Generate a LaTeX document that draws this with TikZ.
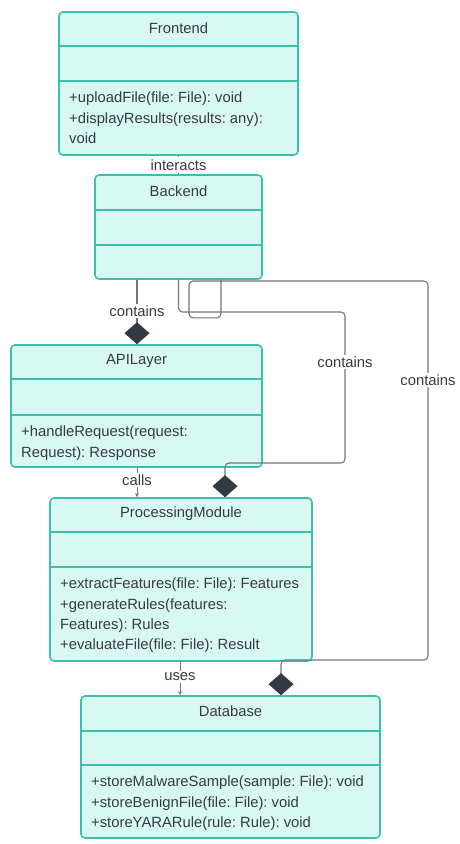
\documentclass[tikz,border=0pt]{standalone}
\usepackage{fontspec}
\setmainfont{Liberation Sans}
\usepackage{tikz}
\usetikzlibrary{arrows.meta}
\definecolor{classfill}{HTML}{D8F8F2}
\definecolor{classline}{HTML}{3CBFAE}
\definecolor{textgray}{HTML}{363B42}
\definecolor{linkgray}{HTML}{767676}
\definecolor{diamondgray}{HTML}{333A45}
\frenchspacing

\begin{document}
\begin{tikzpicture}[x=1pt,y=-1pt,
    classbox/.style={draw=classline,fill=classfill,line width=1.6pt,rounded corners=4pt,inner sep=0pt},
    divider/.style={draw=classline,line width=1.6pt},
    title/.style={text=textgray,font=\fontsize{14.8}{17}\selectfont},
    methods/.style={text=textgray,font=\fontsize{14.8}{20.3}\selectfont,align=left,inner sep=0pt,anchor=north west},
    link/.style={draw=linkgray,line width=1.1pt,rounded corners=4pt},
    lbl/.style={fill=white,text=textgray,inner sep=1.5pt,font=\fontsize{14.8}{17}\selectfont},
    comp/.style={link,-{Diamond[length=22pt,width=25pt,fill=diamondgray,color=diamondgray]}},
    dep/.style={link,line width=0.8pt,-{Stealth[length=4pt,width=4pt]}}]
    \useasboundingbox[fill=white] (0,0) rectangle (459,844);
    %%% CLASSES %%%
    % Frontend %
    \node[classbox,minimum width=239pt,minimum height=143pt] (front) at (178.5,83.5){};
    \draw[divider] (front.west |- 0,46)--(front.east |- 0,46);
    \draw[divider] (front.west |- 0,81)--(front.east |- 0,81);
    \node[title] (fronttitle) at (178.5,28){Frontend};
    \node[methods] (frontops) at (69,92){+uploadFile(file: File): void\\+displayResults(results: any):\\void};
    % Backend %
    \node[classbox,minimum width=167pt,minimum height=104pt] (back) at (178.5,227){};
    \draw[divider] (back.west |- 0,210)--(back.east |- 0,210);
    \draw[divider] (back.west |- 0,245)--(back.east |- 0,245);
    \node[title] (backtitle) at (178.5,191){Backend};
    % APILayer %
    \node[classbox,minimum width=251pt,minimum height=122pt] (api) at (136.5,406){};
    \draw[divider] (api.west |- 0,379)--(api.east |- 0,379);
    \draw[divider] (api.west |- 0,415)--(api.east |- 0,415);
    \node[title] (apititle) at (136.5,361){APILayer};
    \node[methods] (apiops) at (21,426){+handleRequest(request:\\Request): Response};
    % ProcessingModule %
    \node[classbox,minimum width=262pt,minimum height=163pt] (pm) at (181,579.5){};
    \draw[divider] (pm.west |- 0,532)--(pm.east |- 0,532);
    \draw[divider] (pm.west |- 0,567)--(pm.east |- 0,567);
    \node[title] (pmtitle) at (181,514){ProcessingModule};
    \node[methods] (pmops) at (60,578){+extractFeatures(file: File): Features\\+generateRules(features:\\Features): Rules\\+evaluateFile(file: File): Result};
    % Database %
    \node[classbox,minimum width=299pt,minimum height=142pt] (db) at (230.5,767){};
    \draw[divider] (db.west |- 0,731)--(db.east |- 0,731);
    \draw[divider] (db.west |- 0,765)--(db.east |- 0,765);
    \node[title] (dbtitle) at (230.5,711){Database};
    \node[methods] (dbops) at (91,776){+storeMalwareSample(sample: File): void\\+storeBenignFile(file: File): void\\+storeYARARule(rule: Rule): void};
    %%% RELATIONS %%%
    \coordinate (x137) at (137,0);
    \coordinate (x180) at (180,0);
    \coordinate (x221) at (221,0);
    \coordinate (c2a) at (345,312);
    \coordinate (c2) at (225,463);
    \coordinate (c3) at (281,660);
    % interacts %
    \draw[link] (front.south)--(back.north);
    \node[lbl,inner ysep=2.2pt] (lblint) at (178.5,165){interacts};
    % contains %
    \draw[comp] (x137 |- back.south)--(x137 |- api.north);
    \node[lbl] (lblapi) at (137,311){contains};
    \draw[comp] (back.south) |- (c2a) |- (c2)--(c2 |- pm.north);
    \node[lbl] (lblpm) at (345,362){contains};
    \draw[comp] (x221 |- back.south)--++(0,38) -| (189,281) -| (428,660) -| (c3 |- db.north);
    \node[lbl] (lbldb) at (428,380){contains};
    % calls, uses %
    \draw[dep] (x137 |- api.south)--(x137 |- pm.north);
    \node[lbl] (lblcalls) at (137,480){calls};
    \draw[dep] (x180 |- pm.south)--(x180 |- db.north);
    \node[lbl] (lbluses) at (180,677){uses};
\end{tikzpicture}
\end{document}
